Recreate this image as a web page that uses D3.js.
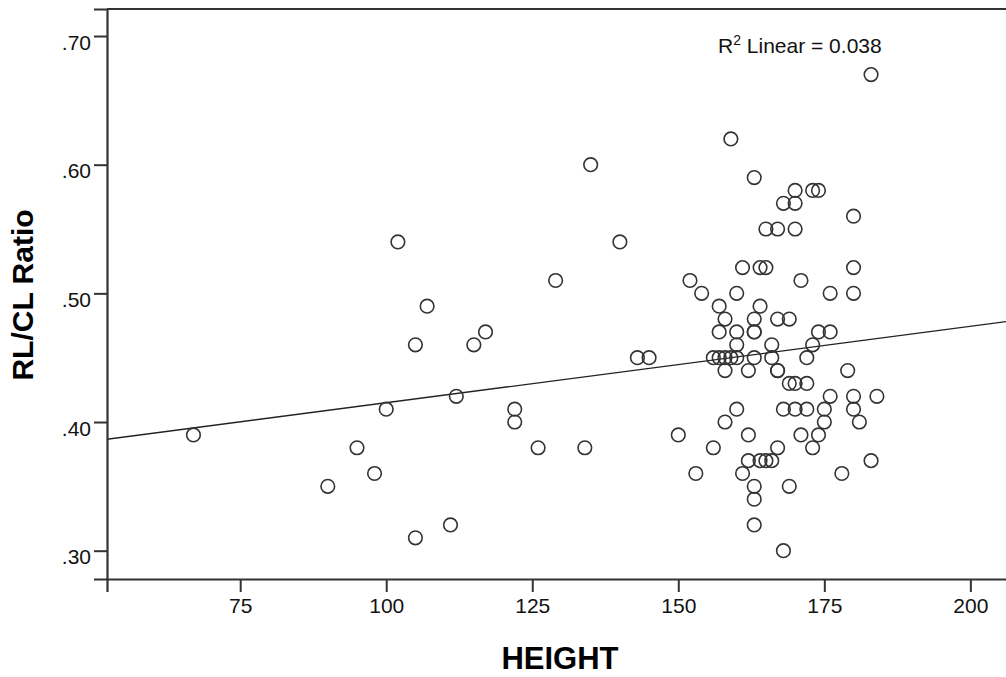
<!DOCTYPE html>
<html>
<head>
<meta charset="utf-8">
<script src="https://cdn.jsdelivr.net/npm/d3@7/dist/d3.min.js"></script>
<style>
  html, body { margin: 0; padding: 0; background: #fff; }
  svg { display: block; }
</style>
</head>
<body>
<svg id="chart" width="1006" height="677"></svg>
<script>
// ---- data ----
const heights = [67, 90, 95, 98, 100, 102, 105, 105, 107, 111, 112, 115, 117, 122, 122, 126, 129, 134, 135, 140,
  143, 145, 150, 152, 153, 154, 156, 156, 157, 157, 157, 158, 158, 158, 158, 159, 159, 160, 160, 160,
  160, 160, 161, 161, 162, 162, 162, 163, 163, 163, 163, 163, 163, 163, 163, 164, 164, 164, 165, 165,
  165, 166, 166, 166, 167, 167, 167, 167, 167, 168, 168, 168, 169, 169, 169, 170, 170, 170, 170, 170,
  171, 171, 172, 172, 172, 173, 173, 173, 174, 174, 174, 175, 175, 176, 176, 176, 178, 179, 180, 180,
  180, 180, 180, 181, 183, 183, 184];
const ratios = [.39, .35, .38, .36, .41, .54, .46, .31, .49, .32, .42, .46, .47, .41, .40, .38, .51, .38, .60, .54,
  .45, .45, .39, .51, .36, .50, .45, .38, .49, .47, .45, .48, .45, .44, .40, .62, .45, .50, .47, .46,
  .45, .41, .52, .36, .44, .39, .37, .59, .48, .47, .47, .45, .35, .34, .32, .52, .49, .37, .55, .52,
  .37, .46, .45, .37, .55, .48, .44, .44, .38, .57, .41, .30, .48, .43, .35, .58, .57, .55, .43, .41,
  .51, .39, .45, .43, .41, .58, .46, .38, .58, .47, .39, .41, .40, .50, .47, .42, .36, .44, .56, .52,
  .50, .42, .41, .40, .67, .37, .42];
const xTicks = [75, 100, 125, 150, 175, 200];
const yTicks = [0.30, 0.40, 0.50, 0.60, 0.70];
const yTickLabels = [".30", ".40", ".50", ".60", ".70"];
const xDomain = [52.2, 207.3];
const yDomain = [0.278, 0.721];
// fit line as shown in the picture
const fitIntercept = 0.3556;
const fitSlope = 0.000594;
const fitLabel = "Linear = 0.038";
const xTitle = "HEIGHT";
const yTitle = "RL/CL Ratio";

// ---- layout ----
const svg = d3.select("#chart");
const padL = 107, padR = 1013, padT = 9, padB = 579;
const ink = "#333";
const font = "Arial, 'Liberation Sans', Helvetica, sans-serif";

svg.append("rect").attr("width", 1006).attr("height", 677).attr("fill", "#fff");

const x = d3.scaleLinear().domain(xDomain).range([padL, padR]);
const y = d3.scaleLinear().domain(yDomain).range([padB, padT]);

svg.append("defs").append("clipPath").attr("id", "plotclip")
  .append("rect").attr("x", padL).attr("y", padT).attr("width", padR - padL).attr("height", padB - padT);

const plot = svg.append("g").attr("clip-path", "url(#plotclip)");
plot.append("line")
  .attr("x1", x(xDomain[0])).attr("y1", y(fitIntercept + fitSlope * xDomain[0]))
  .attr("x2", x(xDomain[1])).attr("y2", y(fitIntercept + fitSlope * xDomain[1]))
  .attr("stroke", "#222").attr("stroke-width", 1.3);

plot.selectAll("circle.pt").data(heights.map((h, i) => [h, ratios[i]]))
  .enter().append("circle").attr("class", "pt")
  .attr("cx", d => x(d[0])).attr("cy", d => y(d[1]))
  .attr("r", 6.8)
  .attr("fill", "none").attr("stroke", ink).attr("stroke-width", 1.6);

svg.append("line").attr("x1", padL).attr("x2", padR).attr("y1", padT).attr("y2", padT)
  .attr("stroke", ink).attr("stroke-width", 2);
svg.append("line").attr("x1", padR).attr("x2", padR).attr("y1", padT).attr("y2", padB)
  .attr("stroke", ink).attr("stroke-width", 2);

const yAxis = d3.axisLeft(y).tickValues(yTicks).tickSize(13).tickPadding(3)
  .tickFormat((d, i) => yTickLabels[i]);
const gy = svg.append("g").attr("transform", `translate(${padL},0)`).call(yAxis);
gy.select(".domain").attr("stroke", ink).attr("stroke-width", 2.2);
gy.selectAll(".tick line").attr("stroke", ink).attr("stroke-width", 2);
gy.selectAll(".tick text").attr("font-family", font).attr("font-size", 21).attr("fill", "#111")
  .attr("dy", "0.62em");

const xAxis = d3.axisBottom(x).tickValues(xTicks).tickSize(13).tickPadding(6);
const gx = svg.append("g").attr("transform", `translate(0,${padB})`).call(xAxis);
gx.select(".domain").attr("stroke", ink).attr("stroke-width", 2.2);
gx.selectAll(".tick line").attr("stroke", ink).attr("stroke-width", 2);
gx.selectAll(".tick text").attr("font-family", font).attr("font-size", 21).attr("fill", "#111");

const lbl = svg.append("text").attr("x", 718).attr("y", 53)
  .attr("font-family", font).attr("font-size", 21).attr("fill", "#111");
lbl.append("tspan").text("R");
lbl.append("tspan").attr("font-size", 14).attr("dy", -8).text("2");
lbl.append("tspan").attr("dy", 8).text(" " + fitLabel);

svg.append("text").attr("x", 560).attr("y", 669).attr("text-anchor", "middle")
  .attr("font-family", font).attr("font-weight", "bold").attr("font-size", 31).attr("fill", "#000")
  .text(xTitle);
svg.append("text").attr("transform", "translate(33,295) rotate(-90)").attr("text-anchor", "middle")
  .attr("font-family", font).attr("font-weight", "bold").attr("font-size", 30).attr("fill", "#000")
  .text(yTitle);
</script>
</body>
</html>
